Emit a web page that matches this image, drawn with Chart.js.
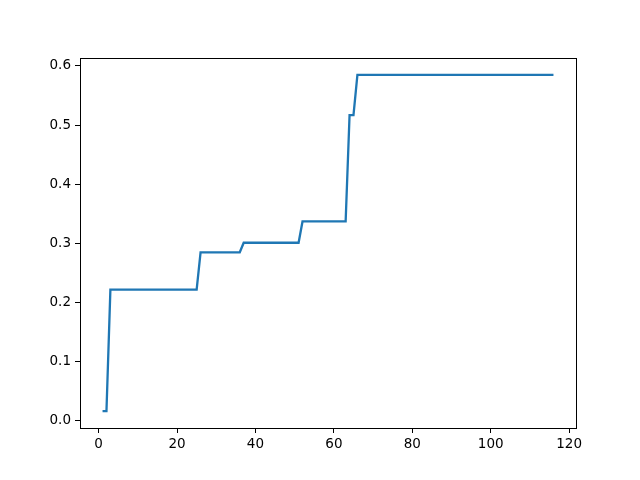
<!DOCTYPE html>
<html>
<head>
<meta charset="utf-8">
<script src="https://cdn.jsdelivr.net/npm/chart.js@4/dist/chart.umd.min.js"></script>
<style>
html,body{margin:0;padding:0;background:#fff;}
canvas{display:block;}
</style>
</head>
<body>
<canvas id="c" width="640" height="480"></canvas>
<script>
// Data (breakpoints of the step-like line)
const xValues = [1, 2, 3, 25, 26, 36, 37, 51, 52, 63, 64, 65, 66, 116];
const yValues = [0.016, 0.016, 0.2217, 0.2217, 0.2848, 0.2848, 0.301, 0.301, 0.337, 0.337, 0.517, 0.517, 0.585, 0.585];
const xTickValues = [0, 20, 40, 60, 80, 100, 120];
const yTickValues = [0.0, 0.1, 0.2, 0.3, 0.4, 0.5, 0.6];

const points = xValues.map((x, i) => ({x: x, y: yValues[i]}));

const frame = {
  id: 'frame',
  afterDraw(chart) {
    const a = chart.chartArea, ctx = chart.ctx;
    ctx.save();
    ctx.strokeStyle = '#000';
    ctx.lineWidth = 1;
    ctx.strokeRect(Math.round(a.left) + 0.5, Math.round(a.top) + 0.5,
                   Math.round(a.right - a.left), Math.round(a.bottom - a.top));
    ctx.restore();
  }
};

const font = {family: 'DejaVu Sans', size: 13.5};

new Chart(document.getElementById('c'), {
  type: 'line',
  data: {
    datasets: [{
      data: points,
      borderColor: '#1f77b4',
      borderWidth: 2.3,
      pointRadius: 0,
      tension: 0,
      fill: false
    }]
  },
  options: {
    responsive: false,
    animation: false,
    devicePixelRatio: 1,
    layout: {padding: {left: 0, right: 64, top: 58, bottom: 0}},
    plugins: {legend: {display: false}, tooltip: {enabled: false}},
    scales: {
      x: {
        type: 'linear',
        min: -4.75,
        max: 121.75,
        afterBuildTicks(s) { s.ticks = xTickValues.map(v => ({value: v})); },
        afterFit(s) { s.height = 52; },
        grid: {drawOnChartArea: false, drawTicks: true, tickLength: 5, color: '#000', tickColor: '#000'},
        border: {display: false},
        ticks: {color: '#000', font: font, padding: 3, maxRotation: 0,
                callback: v => String(v)}
      },
      y: {
        type: 'linear',
        min: -0.0124,
        max: 0.6135,
        afterBuildTicks(s) { s.ticks = yTickValues.map(v => ({value: v})); },
        afterFit(s) { s.width = 80; },
        grid: {drawOnChartArea: false, drawTicks: true, tickLength: 5, color: '#000', tickColor: '#000'},
        border: {display: false},
        ticks: {color: '#000', font: font, padding: 4,
                callback: v => Number(v).toFixed(1)}
      }
    }
  },
  plugins: [frame]
});
</script>
</body>
</html>
